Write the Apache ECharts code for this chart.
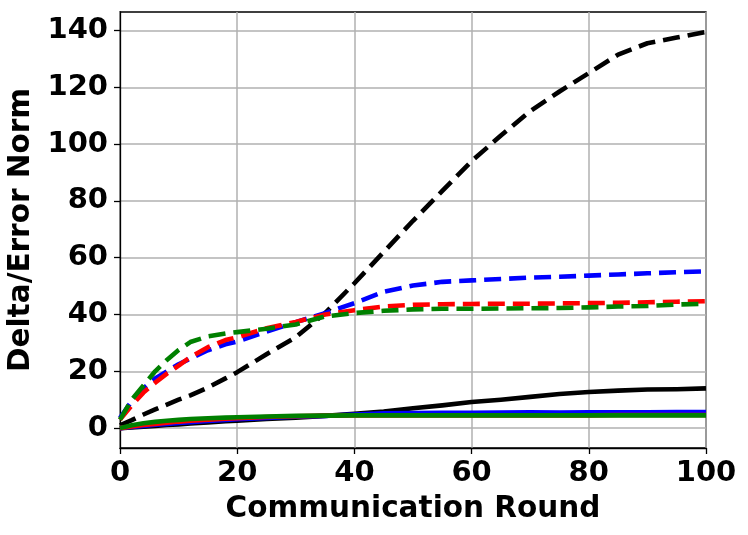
<!DOCTYPE html>
<html><head><meta charset="utf-8">
<script src="https://cdn.jsdelivr.net/npm/echarts@6/dist/echarts.min.js"></script>
<style>html,body{margin:0;padding:0;background:#fff}#c{width:748px;height:535px}</style>
</head><body><div id="c"></div>
<script>
var rounds = [0,2,4,6,8,10,12,15,18,20,25,30,35,40,45,50,55,60,65,70,75,80,85,90,95,100];
var blackDashed = [1,2.8,4.8,6.6,8.3,10,11.5,14.3,17.5,19.7,26,32,40.5,51,62,73,83.5,94,103,111.6,118.5,125,131.5,135.5,137.5,139.5];
var blueDashed  = [3.5,9.5,14,17.5,20,22.5,24.5,27.4,29.5,30.5,34,37.3,40.5,44,48,50.2,51.5,52,52.5,53,53.3,53.7,54.1,54.5,54.9,55.2];
var redDashed   = [3,8,12.5,16,19.2,22,25,28.5,31,32,35.2,37.4,40,41.5,42.8,43.4,43.6,43.7,43.8,43.8,43.9,44,44.1,44.3,44.5,44.7];
var greenDashed = [3,10,15,20,24,27.5,30.3,32.3,33.3,33.8,35,36.5,39.3,40.5,41.3,41.8,42,42,42.1,42.2,42.3,42.5,42.8,43,43.5,43.8];
var blackSolid  = [0,0.2,0.5,0.8,1.1,1.3,1.6,2,2.4,2.6,3.2,3.7,4.3,5,5.8,7,8,9.2,10,11,12,12.7,13.2,13.6,13.7,14];
var blueSolid   = [0,0.4,0.8,1.2,1.5,1.8,2.1,2.5,2.9,3.1,3.6,4,4.3,4.8,5.2,5.3,5.4,5.4,5.5,5.6,5.5,5.6,5.6,5.6,5.7,5.7];
var redSolid    = [0,0.6,1.1,1.5,1.9,2.3,2.6,3,3.3,3.5,3.9,4.2,4.4,4.5,4.5,4.5,4.5,4.5,4.5,4.5,4.5,4.5,4.6,4.6,4.6,4.6];
var greenSolid  = [0,1,1.7,2.2,2.6,2.9,3.2,3.5,3.7,3.8,4.1,4.3,4.4,4.5,4.5,4.5,4.5,4.5,4.5,4.5,4.5,4.5,4.5,4.5,4.5,4.5];
var yTicks = [0,20,40,60,80,100,120,140];
var xTicks = [0,20,40,60,80,100];

function pairs(ys){ return rounds.map(function(x,i){ return [x, ys[i]]; }); }
function mk(data, color, dashed){
  return {type:'line', data:pairs(data), showSymbol:false, symbol:'none', smooth:false, animation:false,
    lineStyle:{color:color, width:4.6, type: dashed ? [17,8] : 'solid', cap:'butt', join:'round'}};
}
var FONT = 'DejaVu Sans';
var chart = echarts.init(document.getElementById('c'), null, {renderer:'canvas'});
chart.setOption({
  backgroundColor:'#fff',
  animation:false,
  grid:{left:120, right:42, top:12, bottom:87, outerBoundsMode:'none', containLabel:false,
    show:true, borderColor:'#000', borderWidth:1.3, backgroundColor:'transparent'},
  xAxis:{type:'value', min:0, max:100, interval:20,
    name:'Communication Round', nameLocation:'middle', nameGap:46,
    nameTextStyle:{fontFamily:FONT, fontWeight:'bold', fontSize:29.5, color:'#000'},
    axisLine:{show:true, onZero:false, lineStyle:{color:'#000', width:1.3}},
    axisTick:{show:true, inside:false, length:6, lineStyle:{color:'#000', width:1.3}},
    axisLabel:{fontFamily:FONT, fontWeight:'bold', fontSize:29, color:'#000', margin:11},
    splitLine:{show:true, lineStyle:{color:'#b0b0b0', width:1.5}}
  },
  yAxis:{type:'value', min:-7, max:146.5,
    name:'Delta/Error Norm', nameLocation:'middle', nameGap:84, nameRotate:90,
    nameTextStyle:{fontFamily:FONT, fontWeight:'bold', fontSize:29.5, color:'#000'},
    axisLine:{show:true, onZero:false, lineStyle:{color:'#000', width:1.3}},
    axisTick:{show:true, inside:false, length:6, customValues:yTicks, lineStyle:{color:'#000', width:1.3}},
    axisLabel:{fontFamily:FONT, fontWeight:'bold', fontSize:29, color:'#000', margin:12, customValues:yTicks},
    splitLine:{show:true, lineStyle:{color:'#b0b0b0', width:1.5}}
  },
  series:[
    mk(blackDashed,'#000000',true),
    mk(blueDashed,'#0000ff',true),
    mk(redDashed,'#ff0000',true),
    mk(greenDashed,'#008000',true),
    mk(blackSolid,'#000000',false),
    mk(blueSolid,'#0000ff',false),
    mk(redSolid,'#ff0000',false),
    mk(greenSolid,'#008000',false)
  ]
});
</script></body></html>
